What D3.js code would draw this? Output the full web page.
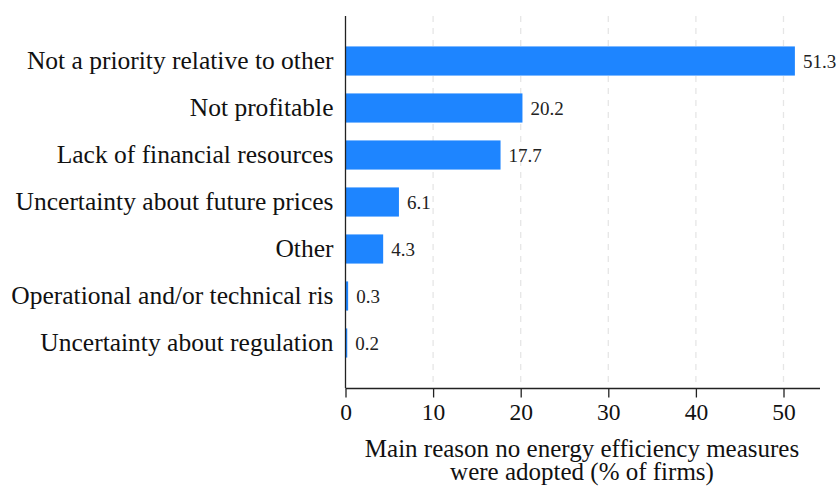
<!DOCTYPE html>
<html><head><meta charset="utf-8">
<script src="https://cdn.jsdelivr.net/npm/d3@7"></script>
<style>body{margin:0;background:#fff}svg{display:block}</style>
</head><body>
<script>
const categories = ["Not a priority relative to other","Not profitable","Lack of financial resources","Uncertainty about future prices","Other","Operational and/or technical ris","Uncertainty about regulation"];
const values = [51.3,20.2,17.7,6.1,4.3,0.3,0.2];
const xTicks = [0,10,20,30,40,50];
const xTitle = ["Main reason no energy efficiency measures","were adopted (% of firms)"];

const W=838,H=486;
const svg=d3.select("body").append("svg").attr("width",W).attr("height",H);
const serif="'Liberation Serif','Times New Roman',serif";
const x=d3.scaleLinear().domain([0,50]).range([345.5,783.5]);
const y=d3.scaleBand().domain(categories).range([16,388]).paddingInner(0.38).paddingOuter(0.6475);

// gridlines
svg.append("g").selectAll("line").data(xTicks.filter(d=>d>0)).join("line")
  .attr("x1",d=>x(d)).attr("x2",d=>x(d)).attr("y1",16).attr("y2",388)
  .attr("stroke","#e6e6e6").attr("stroke-width",1.3).attr("stroke-dasharray","6,6");

// bars
svg.append("g").selectAll("rect").data(values).join("rect")
  .attr("x",x(0)).attr("y",(d,i)=>y(categories[i]))
  .attr("width",d=>x(d)-x(0)).attr("height",y.bandwidth())
  .attr("fill","#1e85ff");

// value labels
svg.append("g").selectAll("text").data(values).join("text")
  .attr("x",d=>x(d)+8).attr("y",(d,i)=>y(categories[i])+y.bandwidth()/2)
  .attr("dy","0.35em").attr("font-family",serif).attr("font-size",19).attr("fill","#222")
  .text(d=>d.toFixed(1));

// y axis
const ya=svg.append("g").attr("transform",`translate(${x(0)},0)`)
  .call(d3.axisLeft(y).tickSize(0).tickPadding(12));
ya.select(".domain").attr("d","M0,16V388").attr("stroke","#222").attr("stroke-width",1.3);
ya.selectAll("text").attr("font-family",serif).attr("font-size",25.5).attr("fill","#111").attr("dy","0.32em");

// x axis
const xa=svg.append("g").attr("transform","translate(0,388.5)")
  .call(d3.axisBottom(x).tickValues(xTicks).tickSize(9).tickPadding(6).tickFormat(d3.format("d")));
xa.select(".domain").attr("d",`M${x(0)},0H820`).attr("stroke","#222").attr("stroke-width",1.3);
xa.selectAll(".tick line").attr("stroke","#222").attr("stroke-width",1.3);
xa.selectAll("text").attr("font-family",serif).attr("font-size",23.5).attr("fill","#111");

// x title
svg.append("text").attr("x",582).attr("y",457).attr("text-anchor","middle")
  .attr("font-family",serif).attr("font-size",25).attr("fill","#111")
  .selectAll("tspan").data(xTitle).join("tspan")
  .attr("x",582).attr("dy",(d,i)=>i?22.5:0).text(d=>d);
</script>
</body></html>
